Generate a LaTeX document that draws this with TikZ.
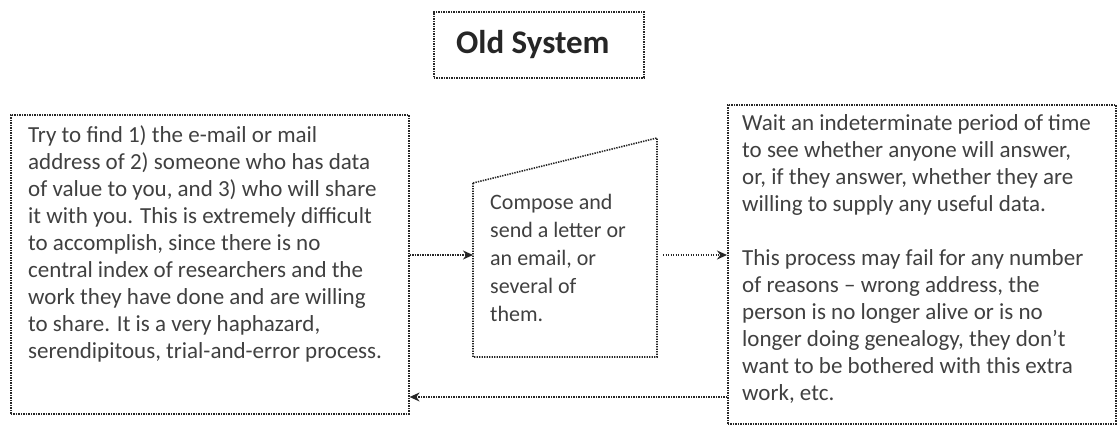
\documentclass[tikz,border=0pt]{standalone}
\usepackage{fontspec}
\setmainfont{Carlito}
\usetikzlibrary{arrows.meta}
\begin{document}
\begin{tikzpicture}[x=1pt,y=-1pt,
  dotline/.style={draw=black!85, line width=1.6pt, dash pattern=on 1.4pt off 1.1pt},
  box/.style={dotline, rectangle, inner sep=0pt, anchor=north west},
  txt/.style={anchor=north west, align=left, inner sep=0pt, text=black!75, font=\fontsize{23}{27}\selectfont},
  conn/.style={dotline, -{Stealth[length=10pt,width=9pt]}, shorten >=0pt}]
\useasboundingbox (0,0) rectangle (1117,433);
% title
\node[box, minimum width=210pt, minimum height=66pt] (title) at (433,11) {};
\node[font=\fontsize{33}{38}\selectfont\bfseries, text=black!85] (titletxt) at ([xshift=-6pt]title.center) {Old System};
% left box
\node[box, minimum width=398pt, minimum height=299pt] (lbox) at (10,114) {};
\node[txt] (ltxt) at (28,125) {Try to find 1) the e-mail or mail\\address of 2) someone who has data\\of value to you, and 3) who will share\\it with you. This is extremely difficult\\to accomplish, since there is no\\central index of researchers and the\\work they have done and are willing\\to share. It is a very haphazard,\\serendipitous, trial-and-error process.};
% trapezoid
\coordinate (ttl) at (473,183);
\coordinate (ttr) at (657,138);
\coordinate (tbr) at (657,357);
\coordinate (tbl) at (473,357);
\draw[dotline] (ttl) -- (ttr) -- (tbr) -- (tbl) -- cycle;
\node[txt, font=\fontsize{22}{28}\selectfont] (mtxt) at (490,194) {Compose and\\send a letter or\\an email, or\\several of\\them.};
\coordinate (tzL) at (473,255);
\coordinate (tzR) at (663,255);
% right box
\node[box, minimum width=388pt, minimum height=319pt] (rbox) at (727,104) {};
\node[txt] (rtxt) at (742,114) {Wait an indeterminate period of time\\to see whether anyone will answer,\\or, if they answer, whether they are\\willing to supply any useful data.\\[27pt]This process may fail for any number\\of reasons -- wrong address, the\\person is no longer alive or is no\\longer doing genealogy, they don't\\want to be bothered with this extra\\work, etc.};
\coordinate (ret) at (727,397);
% connectors
\draw[conn] (lbox.east |- tzL) -- (tzL);
\draw[conn] (tzR) -- (rbox.west |- tzR);
\draw[conn] (ret) -- (lbox.east |- ret);
\end{tikzpicture}
\end{document}
